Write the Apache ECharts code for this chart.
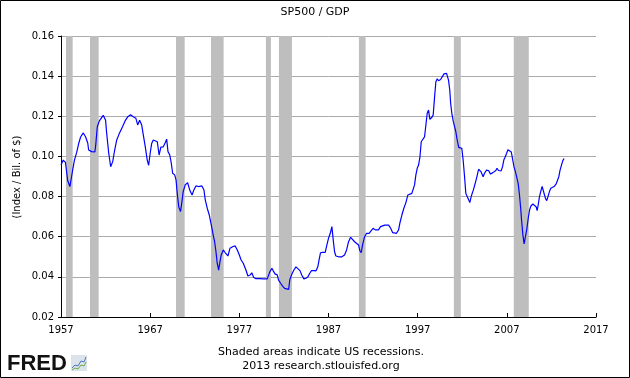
<!DOCTYPE html>
<html>
<head>
<meta charset="utf-8">
<script src="https://cdn.jsdelivr.net/npm/echarts@6/dist/echarts.min.js"></script>
<style>
html,body{margin:0;padding:0;background:#fff;}
#chart{width:630px;height:378px;}
</style>
</head>
<body>
<div id="chart"></div>
<script>
// ---- data ----
var years = [
1957.0,1957.25,1957.5,1957.75,1958.0,1958.15,1958.3,1958.5,1958.76,1959.0,1959.2,1959.5,1959.75,1960.0,1960.1,1960.44,1960.8,1960.9,
1961.07,1961.3,1961.5,1961.74,1962.0,1962.12,1962.35,1962.57,1962.8,1963.02,1963.25,1963.5,1963.7,1963.9,1964.2,1964.5,1964.8,
1965.1,1965.4,1965.6,1965.82,1966.05,1966.2,1966.45,1966.67,1966.83,1967.0,1967.17,1967.35,1967.57,1967.8,1968.0,1968.2,1968.47,
1968.7,1968.85,1969.0,1969.2,1969.37,1969.52,1969.75,1969.9,1970.04,1970.2,1970.4,1970.56,1970.7,1970.93,1971.2,1971.46,1971.7,
1971.9,1972.13,1972.44,1972.58,1972.8,1973.03,1973.18,1973.4,1973.63,1973.78,1973.93,1974.07,1974.23,1974.38,1974.52,1974.68,
1974.83,1974.97,1975.2,1975.42,1975.72,1975.95,1976.25,1976.54,1976.77,1977.0,1977.2,1977.44,1977.74,1977.96,1978.2,1978.4,
1978.6,1978.86,1979.08,1979.3,1979.45,1979.7,1979.9,1980.13,1980.3,1980.43,1980.65,1980.8,1981.0,1981.25,1981.4,1981.63,1981.85,
1982.08,1982.3,1982.53,1982.67,1982.9,1983.12,1983.35,1983.57,1983.8,1984.0,1984.24,1984.47,1984.7,1984.9,1985.1,1985.35,1985.6,
1985.8,1985.96,1986.1,1986.34,1986.63,1986.86,1987.0,1987.2,1987.38,1987.53,1987.68,1987.83,1988.13,1988.5,1988.8,1989.03,
1989.25,1989.48,1989.7,1989.93,1990.15,1990.37,1990.52,1990.67,1990.82,1991.05,1991.27,1991.56,1991.79,1992.0,1992.24,1992.6,
1992.84,1993.0,1993.3,1993.74,1993.97,1994.2,1994.4,1994.63,1994.86,1995.0,1995.23,1995.45,1995.68,1995.9,1996.12,1996.35,
1996.5,1996.65,1996.8,1996.95,1997.1,1997.25,1997.4,1997.6,1997.77,1997.9,1998.07,1998.22,1998.37,1998.6,1998.74,1998.9,
1999.04,1999.2,1999.34,1999.57,1999.8,1999.94,2000.08,2000.24,2000.38,2000.46,2000.6,2000.7,2000.83,2001.0,2001.14,2001.28,
2001.43,2001.6,2001.73,2001.95,2002.1,2002.26,2002.4,2002.55,2002.7,2002.85,2003.0,2003.15,2003.3,2003.45,2003.6,2003.83,
2004.0,2004.1,2004.34,2004.5,2004.72,2004.95,2005.17,2005.4,2005.6,2005.77,2005.9,2006.07,2006.36,2006.52,2006.66,2006.8,
2006.97,2007.12,2007.3,2007.5,2007.67,2007.8,2007.96,2008.1,2008.27,2008.42,2008.57,2008.65,2008.8,2008.94,2009.1,2009.24,
2009.4,2009.55,2009.7,2009.92,2010.14,2010.3,2010.4,2010.5,2010.66,2010.8,2010.96,2011.18,2011.33,2011.48,2011.63,2011.78,
2011.93,2012.15,2012.3,2012.53,2012.68,2012.83,2012.97,2013.13,2013.28,2013.42
];
var values = [
0.0957,0.0982,0.097,0.088,0.085,0.089,0.093,0.098,0.102,0.1067,0.1097,0.1117,0.1098,0.1067,0.1032,0.1024,0.1022,0.106,
0.1148,0.1177,0.118,0.1205,0.118,0.1117,0.1017,0.0949,0.0974,0.1032,0.1082,0.111,0.1115,0.1148,0.1178,0.1198,0.1208,
0.1198,0.119,0.1157,0.118,0.1157,0.1115,0.1049,0.0982,0.0956,0.1016,0.1065,0.1082,0.109,0.1073,0.1007,0.1046,0.1048,
0.1069,0.1086,0.1024,0.1007,0.0966,0.0916,0.0908,0.0883,0.0816,0.075,0.0725,0.0774,0.0824,0.0858,0.0869,0.083,0.0808,
0.0833,0.0853,0.085,0.0842,0.0853,0.0833,0.0783,0.0742,0.0708,0.0675,0.0642,0.0608,0.0575,0.0525,0.0468,0.0434,
0.0476,0.0509,0.0534,0.052,0.0504,0.0542,0.055,0.0554,0.0534,0.0509,0.0484,0.0468,0.0434,0.0404,0.0409,0.042,
0.0398,0.0391,0.0391,0.0391,0.0398,0.039,0.0384,0.039,0.0388,0.0426,0.0443,0.043,0.0415,0.041,0.0384,0.0368,0.0354,
0.0343,0.0338,0.0338,0.0388,0.0414,0.0434,0.045,0.0446,0.0431,0.0409,0.039,0.0393,0.04,0.0418,0.0431,0.0431,0.043,
0.045,0.0488,0.052,0.0522,0.0522,0.0567,0.0592,0.0617,0.065,0.0584,0.0525,0.0504,0.05,0.05,0.0509,0.0534,
0.0575,0.0597,0.0596,0.0575,0.0578,0.0559,0.053,0.052,0.0559,0.06,0.0617,0.0617,0.063,0.0642,0.0634,0.0634,
0.065,0.0658,0.0658,0.0658,0.0642,0.062,0.0625,0.0617,0.0634,0.0667,0.0708,0.0742,0.077,0.0808,0.0816,0.0816,
0.0808,0.0858,0.0908,0.0941,0.0957,0.0995,0.1073,0.108,0.1097,0.1148,0.1215,0.1231,0.1185,0.1195,0.1206,0.1298,
0.1372,0.1387,0.1377,0.1383,0.14,0.1411,0.1406,0.1414,0.1422,0.138,0.1331,0.1265,0.1215,0.1173,0.1148,0.1123,
0.1082,0.1045,0.104,0.104,0.0982,0.0899,0.0816,0.08,0.0786,0.077,0.08,0.082,0.0841,0.0866,0.0891,0.0936,
0.0941,0.0924,0.0899,0.0916,0.0932,0.093,0.0912,0.0918,0.0916,0.093,0.0941,0.093,0.0928,0.0949,0.0982,0.0996,
0.1015,0.1033,0.1025,0.1022,0.1016,0.0949,0.0924,0.0924,0.0866,0.0808,0.0733,0.0683,0.0609,0.0564,0.0604,0.0637,
0.0692,0.0733,0.0753,0.0763,0.0758,0.0748,0.073,0.0753,0.08,0.0825,0.085,0.0853,0.0791,0.078,0.0774,0.0825,
0.0841,0.0836,0.085,0.0863,0.087,0.0899,0.0932,0.0957,0.0979,0.099
];
var recessionStarts = [1957.56, 1960.25, 1969.9, 1973.82, 1979.98, 1981.44, 1990.41, 2001.06, 2007.78];
var recessionEnds   = [1958.31, 1961.22, 1970.87, 1975.24, 1980.54, 1982.9, 1991.16, 2001.84, 2009.46];
var xTickYears = [1957, 1967, 1977, 1987, 1997, 2007, 2017];
var yTicks = [0.02, 0.04, 0.06, 0.08, 0.10, 0.12, 0.14, 0.16];

var titleText = 'SP500 / GDP';
var yAxisTitle = '(Index / Bil. of $)';
var footer1 = 'Shaded areas indicate US recessions.';
var footer2 = '2013 research.stlouisfed.org';

// ---- build options ----
var baseYear = xTickYears[0];
var xStep = xTickYears[1] - xTickYears[0];
var seriesData = years.map(function (y, i) { return [y - baseYear, values[i]]; });
var areas = recessionStarts.map(function (s, i) {
  return [{ xAxis: s - baseYear }, { xAxis: recessionEnds[i] - baseYear }];
});
var FONT = 'DejaVu Sans';

var chart = echarts.init(document.getElementById('chart'), null, { renderer: 'canvas' });
chart.setOption({
  animation: false,
  backgroundColor: '#ffffff',
  grid: { left: 61, right: 34, top: 36, bottom: 61, containLabel: false },
  xAxis: {
    type: 'value',
    min: 0,
    max: xTickYears[xTickYears.length - 1] - baseYear,
    interval: xStep,
    axisLine: { show: true, lineStyle: { color: '#000', width: 1 } },
    axisTick: { show: true, inside: true, length: 4, lineStyle: { color: '#000' } },
    axisLabel: {
      formatter: function (v) { return String(v + baseYear); },
      fontFamily: FONT, fontSize: 10, color: '#000', margin: 8
    },
    splitLine: { show: false }
  },
  yAxis: {
    type: 'value',
    min: yTicks[0],
    max: yTicks[yTicks.length - 1],
    interval: yTicks[1] - yTicks[0],
    axisLine: { show: true, lineStyle: { color: '#000', width: 1 } },
    axisTick: { show: true, inside: false, length: 3, lineStyle: { color: '#000' } },
    axisLabel: {
      formatter: function (v) { return v.toFixed(2); },
      fontFamily: FONT, fontSize: 10, color: '#000', margin: 7
    },
    splitLine: { show: true, lineStyle: { color: '#aaaaaa', width: 1 } }
  },
  series: [{
    type: 'line',
    data: seriesData,
    showSymbol: false,
    symbol: 'none',
    smooth: false,
    lineStyle: { color: '#0000ff', width: 1.2 },
    itemStyle: { color: '#0000ff' },
    markArea: {
      silent: true,
      itemStyle: { color: '#bebebe', opacity: 1 },
      label: { show: false },
      data: areas
    },
    z: 3
  }],
  graphic: [
    { type: 'rect', shape: { x: 0.5, y: 0.5, width: 629, height: 377 },
      style: { fill: 'none', stroke: '#000', lineWidth: 1 }, silent: true, z: 100 },
    { type: 'text', x: 315, y: 12,
      style: { text: titleText, font: '11px "DejaVu Sans"', fill: '#000', align: 'center', verticalAlign: 'middle' } },
    { type: 'text', x: 17, y: 177, rotation: Math.PI / 2,
      style: { text: yAxisTitle, font: '10px "DejaVu Sans"', fill: '#000', align: 'center', verticalAlign: 'middle' } },
    { type: 'text', x: 321, y: 352,
      style: { text: footer1, font: '11px "DejaVu Sans"', fill: '#000', align: 'center', verticalAlign: 'middle' } },
    { type: 'text', x: 321, y: 366,
      style: { text: footer2, font: '11px "DejaVu Sans"', fill: '#000', align: 'center', verticalAlign: 'middle' } },
    { type: 'text', x: 7, y: 364,
      style: { text: 'FRED', font: '900 22px "Liberation Sans"', fill: '#111', align: 'left', verticalAlign: 'middle' } },
    { type: 'group', x: 71, y: 355, children: [
      { type: 'rect', shape: { x: 0, y: 0, width: 16, height: 16 }, style: { fill: '#dde3ea' } },
      { type: 'polyline', shape: { points: [[1, 13], [4, 10], [7, 11], [10, 6], [13, 7], [15, 2]] },
        style: { stroke: '#4a78c0', lineWidth: 1, fill: 'none' } },
      { type: 'polyline', shape: { points: [[1, 15], [4, 13], [7, 14], [10, 10], [13, 11], [15, 7]] },
        style: { stroke: '#6aa84f', lineWidth: 1, fill: 'none' } }
    ] }
  ]
});
</script>
</body>
</html>
